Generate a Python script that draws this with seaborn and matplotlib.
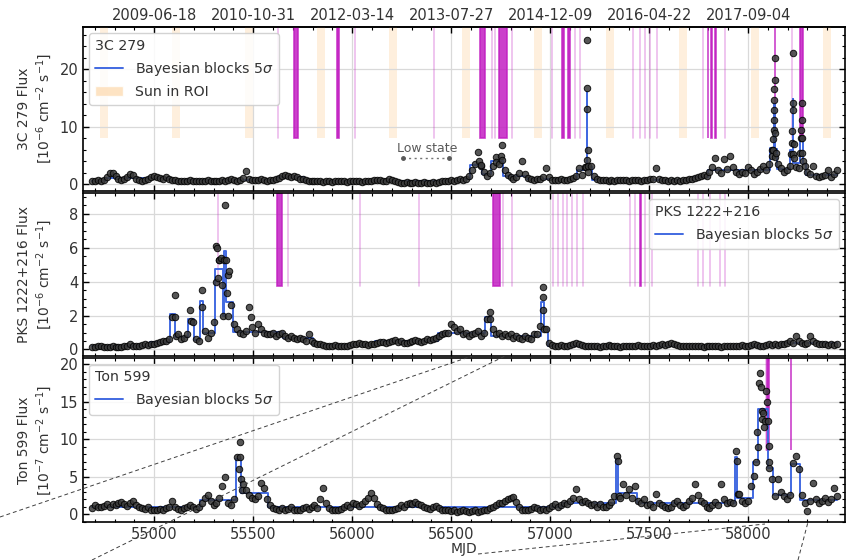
import numpy as np
import pandas as pd
import matplotlib
matplotlib.use("Agg")
import matplotlib.pyplot as plt
import seaborn as sns
from matplotlib.ticker import MultipleLocator
from matplotlib.patches import Patch
from matplotlib.lines import Line2D

# ---------------------------------------------------------------------------
# Light curves: regular 15-day bins starting at MJD 54685, plus short-binned
# points inside the brightest flares.
# ---------------------------------------------------------------------------
grid_start = 54685
grid_step = 15

# 3C 279, 1e-6 ph cm^-2 s^-1
flux_3c279 = [
    0.6, 0.5, 0.7, 0.6, 0.8, 1.2, 1.9, 2.0, 1.4, 0.9,
    0.8, 0.9, 1.3, 1.8, 1.6, 0.9, 0.7, 0.6, 0.7, 0.9,
    1.2, 1.5, 1.3, 1.1, 1.0, 1.2, 0.9, 0.8, 0.7, 0.6,
    0.6, 0.5, 0.6, 0.7, 0.6, 0.5, 0.6, 0.5, 0.6, 0.7,
    0.6, 0.5, 0.5, 0.6, 0.7, 0.6, 0.8, 0.9, 0.7, 0.6,
    0.8, 1.1, 2.3, 1.0, 0.8, 0.7, 0.8, 0.9, 0.7, 0.6,
    0.7, 0.8, 0.9, 1.1, 1.5, 1.6, 1.4, 1.3, 1.5, 1.2,
    1.0, 0.9, 0.8, 0.6, 0.5, 0.5, 0.6, 0.5, 0.4, 0.5,
    0.5, 0.4, 0.5, 0.6, 0.5, 0.5, 0.4, 0.5, 0.6, 0.5,
    0.5, 0.4, 0.5, 0.5, 0.6, 0.7, 0.8, 0.7, 0.6, 0.5,
    0.9, 0.7, 0.5, 0.4, 0.3, 0.3, 0.4, 0.3, 0.3, 0.4,
    0.3, 0.3, 0.4, 0.3, 0.3, 0.4, 0.3, 0.4, 0.5, 0.6,
    0.6, 0.7, 0.6, 0.8, 0.9, 0.8, 1.0, 1.5, 2.4, 3.5,
    5.6, 3.2, 2.1, 1.4, 2.0, 3.1, 4.8, 3.6, 6.8, 2.5,
    1.6, 1.2, 1.0, 1.3, 2.0, 4.0, 1.8, 1.1, 0.9, 0.8,
    0.9, 1.0, 1.3, 2.8, 1.2, 0.8, 0.7, 0.8, 0.9, 0.7,
    0.8, 1.0, 1.1, 1.4, 2.8, 1.6, 3.0, 2.2, 3.2, 1.5,
    1.0, 0.8, 0.7, 0.7, 0.6, 0.7, 0.6, 0.7, 0.8, 0.7,
    0.7, 0.6, 0.7, 0.8, 0.7, 0.6, 0.7, 0.8, 0.9, 1.0,
    2.8, 1.0, 0.8, 0.7, 0.6, 0.7, 0.6, 0.7, 0.6, 0.8,
    0.8, 0.9, 1.0, 1.1, 1.2, 1.4, 1.6, 1.5, 2.2, 3.0,
    4.6, 2.5, 1.9, 4.4, 2.6, 5.0, 3.0, 2.1, 1.8, 2.2,
    1.9, 3.0, 2.4, 1.8, 2.1, 2.6, 3.2, 2.4, 3.5, 6.0,
    4.8, 3.6, 2.8, 2.2, 2.5, 3.1, 5.2, 3.0, 2.8, 5.5,
    3.1, 2.2, 1.8, 3.1, 1.5, 1.2, 1.4, 1.6, 2.4, 1.3, 1.8, 2.4,
]
flare_mjd_3c279 = [
    57183, 57185, 57186, 57187, 57188, 57189, 57191,
    58120, 58124, 58127, 58129, 58130, 58131, 58132, 58133, 58134, 58135, 58137, 58140,
    58218, 58222, 58224, 58226, 58227, 58228, 58230, 58233,
    58262, 58266, 58268, 58270, 58272, 58274, 58277,
    56642, 56650, 56727, 56752, 56758,
]
flare_flux_3c279 = [
    3.0, 4.2, 13.1, 25.2, 16.7, 6.0, 3.1,
    5.0, 6.0, 7.8, 9.5, 11.2, 12.9, 14.7, 16.5, 21.9, 18.1, 9.0, 5.5,
    5.2, 7.2, 9.3, 12.9, 22.8, 14.1, 7.0, 4.5,
    5.5, 8.1, 9.5, 11.2, 14.1, 8.0, 4.0,
    4.0, 3.3, 3.8, 5.0, 4.2,
]

# PKS 1222+216, 1e-6 ph cm^-2 s^-1
flux_pks1222 = [
    0.15, 0.12, 0.18, 0.20, 0.15, 0.13, 0.16, 0.20, 0.17, 0.15,
    0.14, 0.18, 0.22, 0.30, 0.20, 0.18, 0.22, 0.25, 0.30, 0.28,
    0.35, 0.30, 0.40, 0.45, 0.50, 0.50, 0.60, 1.9, 3.2, 0.9,
    0.6, 0.7, 0.9, 2.3, 1.6, 0.6, 0.5, 3.5, 1.1, 0.7,
    1.0, 1.6, 6.1, 5.3, 3.8, 8.5, 4.4, 2.6, 1.5, 1.2,
    1.0, 0.9, 1.1, 2.5, 1.3, 1.0, 1.5, 1.2, 1.0, 0.9,
    0.9, 1.0, 0.8, 0.9, 1.0, 0.8, 0.7, 0.8, 0.7, 0.6,
    0.7, 0.6, 0.5, 0.9, 0.5, 0.4, 0.3, 0.3, 0.25, 0.2,
    0.20, 0.22, 0.25, 0.20, 0.18, 0.20, 0.22, 0.25, 0.30, 0.30,
    0.40, 0.35, 0.30, 0.28, 0.30, 0.35, 0.40, 0.42, 0.45, 0.40,
    0.45, 0.50, 0.55, 0.45, 0.50, 0.40, 0.38, 0.45, 0.50, 0.55,
    0.50, 0.45, 0.50, 0.60, 0.55, 0.60, 0.70, 0.80, 0.90, 1.00,
    1.0, 1.5, 1.3, 1.1, 1.2, 0.9, 1.0, 0.8, 0.9, 1.0,
    1.1, 0.8, 1.0, 1.8, 2.2, 1.2, 0.9, 1.0, 0.8, 0.9,
    0.8, 0.9, 0.7, 0.8, 0.7, 0.6, 0.8, 0.7, 0.6, 0.9,
    0.9, 1.4, 3.7, 1.2, 0.4, 0.25, 0.20, 0.22, 0.25, 0.20,
    0.20, 0.25, 0.30, 0.40, 0.30, 0.25, 0.20, 0.22, 0.20, 0.18,
    0.20, 0.15, 0.18, 0.20, 0.25, 0.20, 0.18, 0.20, 0.15, 0.20,
    0.18, 0.20, 0.22, 0.20, 0.25, 0.20, 0.18, 0.20, 0.22, 0.25,
    0.20, 0.25, 0.30, 0.28, 0.35, 0.40, 0.30, 0.25, 0.20, 0.22,
    0.20, 0.18, 0.20, 0.22, 0.20, 0.18, 0.15, 0.20, 0.22, 0.20,
    0.18, 0.20, 0.15, 0.18, 0.20, 0.22, 0.20, 0.18, 0.20, 0.25,
    0.22, 0.20, 0.25, 0.30, 0.25, 0.20, 0.22, 0.25, 0.30, 0.28,
    0.30, 0.25, 0.30, 0.35, 0.40, 0.50, 0.40, 0.80, 0.50, 0.40,
    0.35, 0.40, 0.80, 0.50, 0.40, 0.30, 0.35, 0.30, 0.25, 0.30, 0.28, 0.30,
]
flare_mjd_pks1222 = [
    55103, 55108, 55186, 55243, 55312, 55318, 55325, 55330, 55340, 55350,
    55355, 55363, 55368, 55372, 55378, 55488, 56698, 56962, 56966, 56968,
]
flare_flux_pks1222 = [
    1.9, 0.8, 1.7, 2.5, 4.0, 6.0, 4.2, 5.3, 5.4, 2.0,
    5.3, 5.3, 3.3, 2.0, 4.6, 1.9, 1.8, 3.1, 2.3, 1.2,
]

# Ton 599, 1e-7 ph cm^-2 s^-1
flux_ton599 = [
    0.8, 1.2, 1.0, 0.9, 1.1, 1.3, 1.0, 1.4, 1.2, 1.5,
    1.6, 1.3, 1.1, 1.5, 1.8, 1.2, 1.0, 0.8, 0.7, 0.9,
    0.6, 0.5, 0.6, 0.7, 0.5, 0.8, 1.0, 1.8, 0.9, 0.7,
    0.6, 0.8, 1.0, 1.2, 0.9, 0.7, 1.0, 1.5, 2.1, 2.6,
    1.8, 1.2, 1.5, 2.2, 3.8, 4.9, 1.5, 1.2, 2.0, 7.6,
    9.6, 4.0, 3.2, 2.6, 2.2, 2.0, 2.4, 4.1, 3.5, 2.0,
    1.2, 0.8, 0.7, 0.6, 0.8, 0.5, 0.7, 1.0, 0.6, 0.5,
    0.6, 0.8, 1.0, 0.7, 0.9, 1.2, 0.8, 2.0, 3.5, 1.5,
    0.8, 0.6, 0.5, 0.6, 0.7, 0.9, 1.2, 1.0, 1.5, 1.3,
    1.1, 1.4, 1.8, 2.2, 2.8, 2.1, 1.4, 1.0, 0.8, 0.6,
    0.5, 0.6, 0.7, 0.8, 1.2, 1.0, 1.3, 1.5, 1.4, 1.6,
    1.4, 1.2, 1.0, 0.8, 0.7, 0.9, 1.1, 0.8, 0.6, 0.5,
    0.6, 0.4, 0.5, 0.3, 0.4, 0.5, 0.4, 0.3, 0.4, 0.5,
    0.3, 0.4, 0.6, 0.5, 0.8, 1.0, 1.2, 1.5, 1.5, 1.8,
    2.0, 2.2, 2.3, 1.6, 1.0, 0.6, 0.5, 0.6, 0.7, 1.0,
    0.8, 0.6, 0.7, 0.5, 0.8, 1.1, 1.3, 1.0, 1.2, 1.5,
    1.4, 1.8, 2.1, 3.3, 2.0, 1.6, 1.8, 1.5, 1.2, 1.3,
    1.0, 1.3, 0.9, 1.0, 1.2, 1.6, 2.4, 7.7, 2.2, 4.0,
    2.6, 3.4, 2.2, 3.7, 1.8, 1.5, 2.0, 1.2, 1.4, 1.0,
    2.7, 1.5, 1.2, 1.0, 0.8, 1.0, 1.5, 1.8, 1.2, 0.9,
    1.2, 1.8, 2.2, 4.0, 2.5, 1.8, 1.5, 1.0, 0.8, 1.2,
    1.6, 1.2, 4.0, 2.0, 1.5, 1.6, 1.5, 8.4, 2.7, 1.8,
    1.5, 1.8, 3.7, 5.1, 11.0, 18.8, 13.5, 16.4, 6.1, 4.7,
    2.4, 4.7, 3.0, 2.4, 2.0, 2.5, 6.8, 7.7, 6.0, 2.6,
    1.5, 0.4, 1.8, 4.1, 2.0, 1.5, 1.8, 2.2, 1.6, 2.0, 3.5, 2.4,
]
flare_mjd_ton599 = [
    55430, 55433, 55438, 55445, 57342, 57347, 57943, 57948, 58040, 58048,
    58056, 58063, 58068, 58072, 58078, 58084, 58097, 58100, 58104, 58107,
]
flare_flux_ton599 = [
    6.0, 7.6, 4.7, 3.2, 7.1, 2.4, 7.1, 2.7, 7.0, 9.0,
    17.5, 17.0, 13.7, 12.7, 11.6, 12.4, 15.0, 12.4, 9.1, 7.0,
]

# Flux-uncertainty model used for the block segmentation (fractional, floor)
err_model = {"3c279": (0.10, 0.10), "pks1222": (0.10, 0.05), "ton599": (0.12, 0.30)}

# Event windows (MJD). Strong events as [start, end], weak events as single dates.
strong_3c279 = [(55707, 55727), (55926, 55932), (56646, 56672), (56742, 56783),
                (57062, 57072), (57088, 57098), (57795, 57800), (57815, 57820),
                (57835, 57840), (58134, 58138), (58263, 58278)]
weak_3c279 = [55624, 56015, 56414, 56707, 56722, 56808, 57010, 57126, 57152,
              57419, 57455, 57480, 57505, 57540, 57773, 57884, 58222]
strong_pks1222 = [(55621, 55646), (56712, 56747), (57452, 57458)]
weak_pks1222 = [55323, 55677, 56040, 56338, 56763, 56808, 57015, 57040, 57066,
                57086, 57111, 57136, 57167, 57404, 57429, 57480, 57515, 57747,
                57773, 57808, 57859, 57884]
strong_ton599 = [(58098, 58104), (58216, 58219)]
weak_ton599 = [58088]

# Periods with the Sun inside the 3C 279 region of interest
sun_start = [54727, 55092, 55458, 55823, 56188, 56553, 56918, 57284, 57649, 58014, 58379]
sun_end = [54767, 55132, 55498, 55863, 56228, 56593, 56958, 57324, 57689, 58054, 58419]

# Calendar dates of the MJD ticks
mjd_ticks = [55000, 55500, 56000, 56500, 57000, 57500, 58000]
date_labels = ["2009-06-18", "2010-10-31", "2012-03-14", "2013-07-27",
               "2014-12-09", "2016-04-22", "2017-09-04"]


def bayesian_blocks(t, x, sigma, p0=5.7e-7):
    """Optimal segmentation of point measurements (Scargle et al. 2013)."""
    n = len(t)
    edges = np.concatenate([t[:1], 0.5 * (t[1:] + t[:-1]), t[-1:]])
    ncp_prior = 4 - np.log(73.53 * p0 * n ** -0.478)
    a_k = 0.5 / sigma ** 2
    b_k = -x / sigma ** 2
    best = np.zeros(n)
    last = np.zeros(n, dtype=int)
    for r in range(n):
        aa = np.cumsum(a_k[:r + 1][::-1])[::-1]
        bb = np.cumsum(b_k[:r + 1][::-1])[::-1]
        fit = bb ** 2 / (4 * aa) - ncp_prior
        fit[1:] += best[:r]
        i = int(np.argmax(fit))
        last[r] = i
        best[r] = fit[i]
    cps = []
    ind = n
    while ind > 0:
        cps.append(ind)
        ind = last[ind - 1]
    cps.append(0)
    cps = np.array(cps[::-1])
    bedges = edges[cps]
    w = 1 / sigma ** 2
    levels = [np.sum(w[a:b] * x[a:b]) / np.sum(w[a:b]) for a, b in zip(cps[:-1], cps[1:])]
    return bedges, np.array(levels)


def build(flux, extra_t, extra_f):
    t_grid = grid_start + grid_step * np.arange(len(flux))
    df = pd.DataFrame({"mjd": np.concatenate([t_grid, extra_t]).astype(float),
                       "flux": np.concatenate([flux, extra_f]).astype(float)})
    return df.sort_values("mjd").reset_index(drop=True)


sources = [
    ("3c279", build(flux_3c279, flare_mjd_3c279, flare_flux_3c279)),
    ("pks1222", build(flux_pks1222, flare_mjd_pks1222, flare_flux_pks1222)),
    ("ton599", build(flux_ton599, flare_mjd_ton599, flare_flux_ton599)),
]

sns.set_theme(style="whitegrid")
plt.rcParams.update({
    "font.family": ["DejaVu Sans"],
    "axes.edgecolor": "black",
    "axes.linewidth": 1.2,
    "grid.color": "0.85",
    "grid.linewidth": 0.9,
    "text.color": "0.2",
    "axes.labelcolor": "0.2",
    "xtick.color": "0.2",
    "ytick.color": "0.2",
})

fig = plt.figure(figsize=(8.65, 5.6), dpi=100)
gs = fig.add_gridspec(3, 1, left=0.096, right=0.977, top=0.952, bottom=0.068, hspace=0.012)
axes = [fig.add_subplot(gs[i]) for i in range(3)]

xlim = (54641, 58490)
ylims = [(-1.1, 27.4), (-0.4, 9.25), (-1.05, 20.8)]
ymajor = [10, 2, 5]
yminor = [2, 0.5, 1]
event_floor = [0.32, 0.43, 0.44]
strong_sets = [strong_3c279, strong_pks1222, strong_ton599]
weak_sets = [weak_3c279, weak_pks1222, weak_ton599]
ylabels = ["3C 279 Flux\n[$10^{-6}$ cm$^{-2}$ s$^{-1}$]",
           "PKS 1222+216 Flux\n[$10^{-6}$ cm$^{-2}$ s$^{-1}$]",
           "Ton 599 Flux\n[$10^{-7}$ cm$^{-2}$ s$^{-1}$]"]
titles = ["3C 279", "PKS 1222+216", "Ton 599"]
legend_loc = ["upper left", "upper right", "upper left"]

block_color = "royalblue"
event_color = "#c21fc2"
sun_color = "#fddcb5"

for k, (ax, (key, df)) in enumerate(zip(axes, sources)):
    ymin_frac = event_floor[k]
    if k == 0:
        for s, e in zip(sun_start, sun_end):
            ax.axvspan(s, e, ymin=ymin_frac, ymax=1, color=sun_color, alpha=0.45, lw=0, zorder=0.5)
    for t in weak_sets[k]:
        ax.axvline(t, ymin=ymin_frac, ymax=1, color=event_color, alpha=0.3, lw=1.2, zorder=1)
    for s, e in strong_sets[k]:
        ax.axvspan(s, e, ymin=ymin_frac, ymax=1, color=event_color, alpha=0.85, lw=1.2, zorder=1.1)

    rel, floor = err_model[key]
    sig = np.hypot(rel * df["flux"].to_numpy(), floor)
    edges, levels = bayesian_blocks(df["mjd"].to_numpy(), df["flux"].to_numpy(), sig)
    bb = pd.DataFrame({"mjd": edges, "flux": np.append(levels, levels[-1])})
    sns.lineplot(data=bb, x="mjd", y="flux", ax=ax, color=block_color, lw=1.4,
                 drawstyle="steps-post", estimator=None, sort=False, zorder=3)

    sns.scatterplot(data=df, x="mjd", y="flux", ax=ax, s=22, color="0.22",
                    edgecolor="black", linewidth=0.7, alpha=0.85, zorder=4, legend=False)

    ax.set_xlim(*xlim)
    ax.set_ylim(*ylims[k])
    ax.xaxis.set_major_locator(MultipleLocator(500))
    ax.xaxis.set_minor_locator(MultipleLocator(100))
    ax.yaxis.set_major_locator(MultipleLocator(ymajor[k]))
    ax.yaxis.set_minor_locator(MultipleLocator(yminor[k]))
    ax.tick_params(which="both", direction="in", top=True, right=True, bottom=True, left=True,
                   color="black", labelsize=10.5)
    ax.tick_params(which="major", length=4.5, width=1)
    ax.tick_params(which="minor", length=2.5, width=0.8)
    ax.grid(True, which="major")
    ax.set_ylabel(ylabels[k], fontsize=10)
    ax.set_xlabel("")
    if k < 2:
        ax.tick_params(labelbottom=False)

    handles = [Line2D([], [], color=block_color, lw=1.4, label="Bayesian blocks 5$\\sigma$")]
    if k == 0:
        handles.append(Patch(facecolor=sun_color, alpha=0.8, label="Sun in ROI"))
    leg = ax.legend(handles=handles, title=titles[k], loc=legend_loc[k], alignment="left",
                    fontsize=10.2, title_fontsize=10.2, framealpha=0.85, edgecolor="0.8",
                    borderaxespad=0.45)
    leg.set_zorder(6)

axes[2].set_xlabel("MJD", fontsize=10, labelpad=0)
fig.align_ylabels(axes)

# Low-state interval in the 3C 279 light curve
ax0 = axes[0]
ax0.plot([56258, 56490], [4.6, 4.6], ls=(0, (1.5, 2.5)), color="0.45", lw=1.0, zorder=2)
ax0.plot([56258, 56490], [4.6, 4.6], ls="none", marker="o", ms=2.5, color="0.35", zorder=2)
ax0.text(56379, 6.3, "Low state", ha="center", va="center", fontsize=9, color="0.35")

# Calendar dates along the top of the figure
sec = ax0.secondary_xaxis("top")
sec.set_xticks(mjd_ticks, labels=date_labels)
sec.tick_params(direction="in", length=0, labelsize=10.5, pad=3)

# Zoom connector guides
W, H = 865.0, 560.0
guides = [((0, 517), (472, 356)), ((92, 560), (505, 356)),
          ((478, 554), (765, 524)), ((798, 560), (808, 522))]
for (x0, y0), (x1, y1) in guides:
    fig.add_artist(Line2D([x0 / W, x1 / W], [1 - y0 / H, 1 - y1 / H], transform=fig.transFigure,
                          color="0.25", lw=0.7, ls=(0, (4, 3)), zorder=10))

fig.savefig("out.png", dpi=100)
